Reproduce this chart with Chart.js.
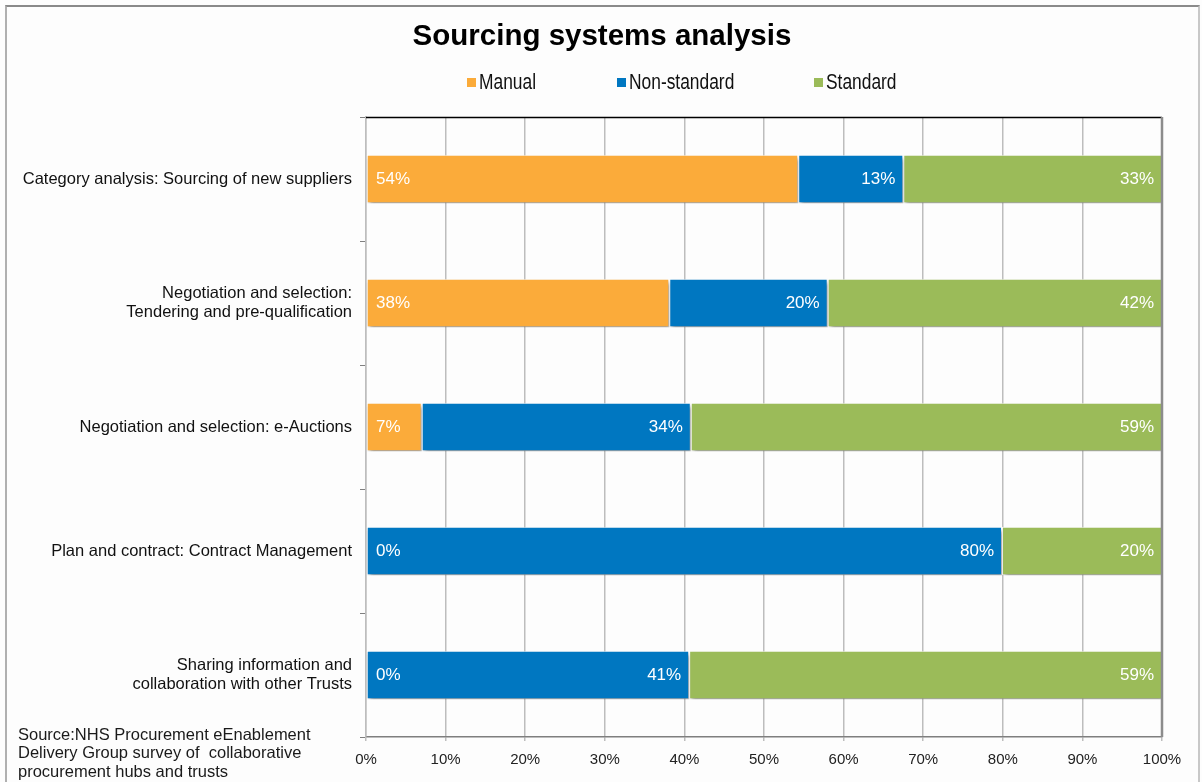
<!DOCTYPE html>
<html>
<head>
<meta charset="utf-8">
<script src="https://cdn.jsdelivr.net/npm/chart.js@4.4.0/dist/chart.umd.min.js"></script>
<style>
  html, body { margin: 0; padding: 0; background: #fdfdfd; }
  #wrap { position: relative; width: 1202px; height: 782px; overflow: hidden; }
  #frame { position: absolute; left: 5px; top: 5px; width: 1191px; height: 800px;
           border-top: 2px solid #8a8a8a; border-left: 2px solid #b0b0b0; border-right: 2px solid #c8c8c8; }
  canvas { position: absolute; left: 0; top: 0; }
</style>
</head>
<body>
<div id="wrap">
  <div id="frame"></div>
  <canvas id="chart" width="1202" height="782"></canvas>
</div>
<script>
// 調達システム分析 - 100%積み上げ横棒グラフ

const categories = [
    'Category analysis: Sourcing of new suppliers',
    ['Negotiation and selection:', 'Tendering and pre-qualification'],
    'Negotiation and selection: e-Auctions',
    'Plan and contract: Contract Management',
    ['Sharing information and', 'collaboration with other Trusts']
];
const manual = [54.3, 38.1, 7.0, 0, 0];
const nonStandard = [13.2, 19.9, 33.8, 79.9, 40.6];
const standard = [32.5, 42.0, 59.2, 20.1, 59.4];
const xTicks = ['0%', '10%', '20%', '30%', '40%', '50%', '60%', '70%', '80%', '90%', '100%'];

const sourceNote = [
    'Source:NHS Procurement eEnablement',
    'Delivery Group survey of  collaborative',
    'procurement hubs and trusts'
];

const FONT = '"Liberation Sans", Arial, sans-serif';

// 棒の影
const shadowPlugin = {
    id: 'barShadow',
    beforeDatasetsDraw(chart) {
        const ctx = chart.ctx;
        ctx.save();
        ctx.shadowColor = 'rgba(0,0,0,0.4)';
        ctx.shadowBlur = 4;
        ctx.shadowOffsetX = 2;
        ctx.shadowOffsetY = 3;
    },
    afterDatasetsDraw(chart) {
        chart.ctx.restore();
    }
};

// 枠線・ラベル・凡例・出典
const decorPlugin = {
    id: 'decor',
    afterLayout(chart) {
        // タイトルを全体の中央に寄せる
        chart.titleBlock.left += 16;
        chart.titleBlock.right += 16;
    },
    afterDatasetsDraw(chart) {
        const ctx = chart.ctx;
        const area = chart.chartArea;

        // 枠線
        ctx.save();
        ctx.strokeStyle = '#000';
        ctx.lineWidth = 1.5;
        ctx.beginPath();
        ctx.moveTo(area.left, area.top + 0.5);
        ctx.lineTo(area.right, area.top + 0.5);
        ctx.stroke();
        ctx.strokeStyle = '#8c8c8c';
        ctx.lineWidth = 2.5;
        ctx.beginPath();
        ctx.moveTo(area.right, area.top);
        ctx.lineTo(area.right, area.bottom);
        ctx.stroke();
        ctx.restore();

        // データラベル
        ctx.save();
        ctx.fillStyle = '#fff';
        ctx.font = '17px ' + FONT;
        ctx.textBaseline = 'middle';
        chart.data.datasets.forEach((ds, i) => {
            const meta = chart.getDatasetMeta(i);
            meta.data.forEach((bar, j) => {
                const txt = Math.round(ds.data[j]) + '%';
                if (i === 0) {
                    ctx.textAlign = 'left';
                    ctx.fillText(txt, area.left + 10, bar.y);
                } else {
                    ctx.textAlign = 'right';
                    ctx.fillText(txt, bar.x - 8, bar.y);
                }
            });
        });
        ctx.restore();
    },
    afterDraw(chart) {
        const ctx = chart.ctx;
        // 凡例（横に詰めた文字）
        const legendX = [467, 617, 814];
        ctx.save();
        ctx.textBaseline = 'middle';
        ctx.textAlign = 'left';
        ctx.font = '22px ' + FONT;
        chart.data.datasets.forEach((ds, i) => {
            ctx.fillStyle = ds.backgroundColor;
            ctx.fillRect(legendX[i], 78, 9, 9);
            ctx.save();
            ctx.translate(legendX[i] + 12, 83);
            ctx.scale(0.79, 1);
            ctx.fillStyle = '#111';
            ctx.fillText(ds.label, 0, 0);
            ctx.restore();
        });

        // 出典
        ctx.font = '16.5px ' + FONT;
        ctx.fillStyle = '#1a1a1a';
        ctx.textBaseline = 'middle';
        sourceNote.forEach((line, k) => {
            ctx.fillText(line, 18, 735 + k * 18.5);
        });
        ctx.restore();
    }
};

const ctx = document.getElementById('chart').getContext('2d');
new Chart(ctx, {
    type: 'bar',
    data: {
        labels: categories,
        datasets: [
            {
                label: 'Manual',
                data: manual,
                backgroundColor: '#FBAB3A',
                borderColor: 'rgba(255,255,255,0.85)',
                borderWidth: 1,
                borderSkipped: false
            },
            {
                label: 'Non-standard',
                data: nonStandard,
                backgroundColor: '#0077C1',
                borderColor: 'rgba(255,255,255,0.85)',
                borderWidth: 1,
                borderSkipped: false
            },
            {
                label: 'Standard',
                data: standard,
                backgroundColor: '#9BBB59',
                borderColor: 'rgba(255,255,255,0.85)',
                borderWidth: 1,
                borderSkipped: false
            }
        ]
    },
    options: {
        indexAxis: 'y',
        responsive: false,
        animation: false,
        events: [],
        devicePixelRatio: 1,
        layout: {
            padding: { left: 10, right: 40, top: 0, bottom: 0 }
        },
        datasets: {
            bar: { barPercentage: 0.39, categoryPercentage: 1 }
        },
        plugins: {
            legend: { display: false },
            tooltip: { enabled: false },
            title: {
                display: true,
                text: 'Sourcing systems analysis',
                color: '#000',
                font: { family: FONT, size: 29.5, weight: 'bold' },
                padding: { top: 19, bottom: 62.6 }
            }
        },
        scales: {
            x: {
                stacked: true,
                min: 0,
                max: 100,
                afterBuildTicks(scale) {
                    scale.ticks = xTicks.map((t, i) => ({ value: i * 10 }));
                },
                afterFit(scale) {
                    scale.height = 45;
                },
                ticks: {
                    color: '#222',
                    font: { family: FONT, size: 15 },
                    padding: 10,
                    callback: (v, i) => xTicks[i]
                },
                grid: {
                    color: '#bdbdbd',
                    lineWidth: 1.5,
                    tickLength: 4
                },
                border: { color: '#7f7f7f', width: 1.5 }
            },
            y: {
                stacked: true,
                afterFit(scale) {
                    scale.width = 356;
                },
                ticks: {
                    color: '#111',
                    font: { family: FONT, size: 16.5, lineHeight: 1.2 },
                    padding: 8
                },
                grid: {
                    drawOnChartArea: false,
                    drawTicks: true,
                    tickLength: 6,
                    color: '#7f7f7f'
                },
                border: { color: '#bdbdbd', width: 1.5 }
            }
        }
    },
    plugins: [shadowPlugin, decorPlugin]
});
</script>
</body>
</html>
